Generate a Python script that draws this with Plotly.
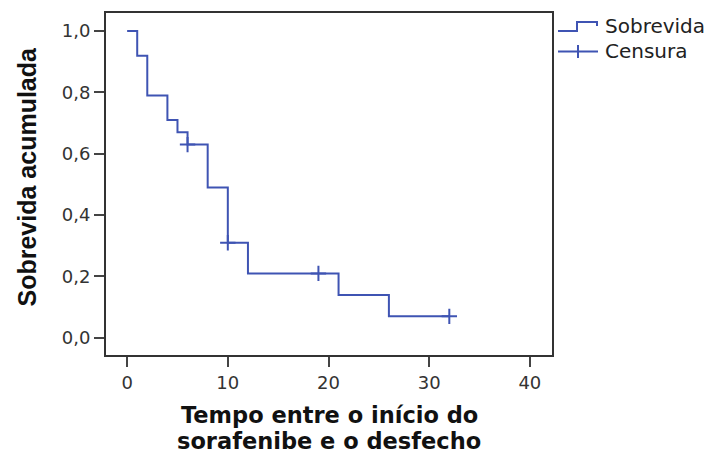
import plotly.graph_objects as go

# ---- data ----
event_times = [1, 2, 4, 5, 6, 8, 10, 12, 21, 26]
survival = [0.92, 0.79, 0.71, 0.67, 0.63, 0.49, 0.31, 0.21, 0.14, 0.07]
censor_times = [6, 10, 19, 32]
censor_surv = [0.63, 0.31, 0.21, 0.07]
x_ticks = [0, 10, 20, 30, 40]
y_ticks = [0.0, 0.2, 0.4, 0.6, 0.8, 1.0]
y_tick_labels = ["0,0", "0,2", "0,4", "0,6", "0,8", "1,0"]
legend_labels = ["Sobrevida", "Censura"]
x_title_lines = ["Tempo entre o início do", "sorafenibe e o desfecho"]
y_title = "Sobrevida acumulada"

LINE = "#3f54b3"
W, H = 710, 455
L, R, T, B = 106, 552, 13, 355


def px(x):
    return (x - L) / (R - L)


def py(y):
    return (B - y) / (B - T)


step_x = [0] + event_times + [censor_times[-1]]
step_y = [1.0] + survival + [survival[-1]]

fig = go.Figure()
fig.add_trace(go.Scatter(x=step_x, y=step_y, mode="lines", line_shape="hv",
                         line=dict(color=LINE, width=2), showlegend=False, hoverinfo="skip"))
fig.add_trace(go.Scatter(x=censor_times, y=censor_surv, mode="markers",
                         marker=dict(symbol="cross-thin", size=11, line=dict(color=LINE, width=2)),
                         showlegend=False, hoverinfo="skip"))

axis_common = dict(showline=True, linecolor="#333", linewidth=2, mirror=True,
                   ticks="outside", ticklen=10, tickwidth=2, tickcolor="#444",
                   showgrid=False, zeroline=False,
                   tickfont=dict(family="DejaVu Sans", size=18, color="#333"))

fig.update_xaxes(range=[-2.1, 42.2], tickvals=x_ticks, **axis_common)
fig.update_yaxes(range=[-0.056, 1.059], tickvals=y_ticks, ticktext=y_tick_labels, **axis_common)

annotations = [
    dict(text=y_title, textangle=-90, x=px(26), y=py(176.5), xref="paper", yref="paper",
         xanchor="center", yanchor="middle", showarrow=False,
         font=dict(family="Liberation Sans", size=25, color="#111", weight="bold")),
    dict(text=x_title_lines[0], x=px(329), y=py(415), xref="paper", yref="paper",
         xanchor="center", yanchor="middle", showarrow=False,
         font=dict(family="DejaVu Sans", size=22.5, color="#111", weight="bold")),
    dict(text=x_title_lines[1], x=px(329), y=py(441), xref="paper", yref="paper",
         xanchor="center", yanchor="middle", showarrow=False,
         font=dict(family="DejaVu Sans", size=22.5, color="#111", weight="bold")),
    dict(text=legend_labels[0], x=px(603), y=py(26), xref="paper", yref="paper",
         xanchor="left", yanchor="middle", showarrow=False,
         font=dict(family="DejaVu Sans", size=20, color="#222")),
    dict(text=legend_labels[1], x=px(603), y=py(51), xref="paper", yref="paper",
         xanchor="left", yanchor="middle", showarrow=False,
         font=dict(family="DejaVu Sans", size=20, color="#222")),
]

step_path = "M {} {} L {} {} L {} {} L {} {} L {} {}".format(
    px(558), py(31), px(577), py(31), px(577), py(22), px(597), py(22), px(597), py(26))
shapes = [
    dict(type="path", path=step_path, xref="paper", yref="paper",
         line=dict(color=LINE, width=2)),
    dict(type="line", x0=px(558), x1=px(598), y0=py(51.5), y1=py(51.5), xref="paper", yref="paper",
         line=dict(color=LINE, width=2)),
    dict(type="line", x0=px(578), x1=px(578), y0=py(45), y1=py(58), xref="paper", yref="paper",
         line=dict(color=LINE, width=2)),
]

fig.update_layout(width=W, height=H, margin=dict(l=L, r=W - R, t=T, b=H - B, pad=0),
                  plot_bgcolor="white", paper_bgcolor="white",
                  annotations=annotations, shapes=shapes, showlegend=False)

fig.write_html("out.html", config={"displayModeBar": False},
               post_script="document.body.style.margin='0';document.body.style.overflow='hidden';")
